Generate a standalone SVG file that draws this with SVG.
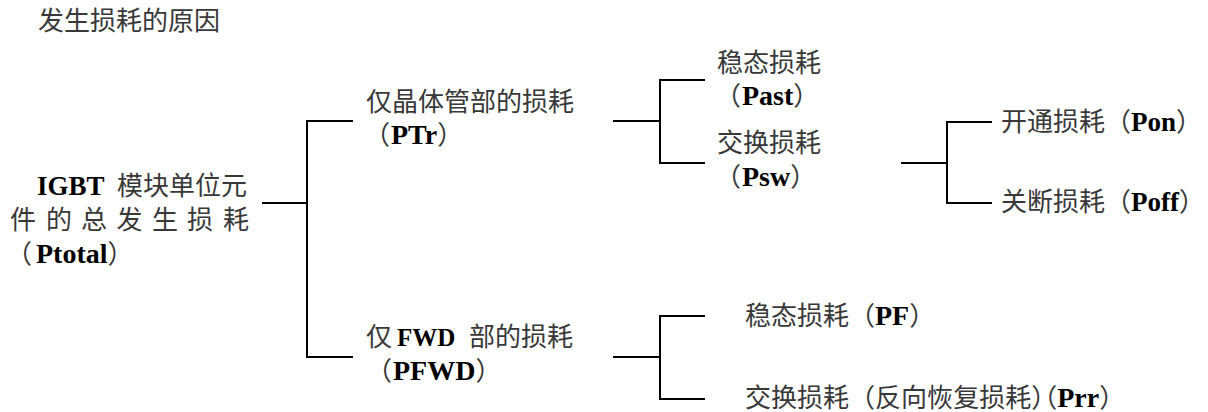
<svg xmlns="http://www.w3.org/2000/svg" width="1208" height="412" viewBox="0 0 1208 412">
<style>
  text { font-family: "Liberation Serif", "Noto Sans CJK SC", serif; font-size: 26px; fill: #383838; }
  .b { font-family: "Liberation Serif", serif; font-weight: bold; font-size: 28px; fill: #000; }
  .s { font-size: 27px; }
  .c { fill: none; stroke: #000; stroke-width: 2; stroke-linejoin: miter; stroke-linecap: butt; }
</style>
<rect width="1208" height="412" fill="#fff"/>
<g id="title"><text x="38" y="30">发生损耗的原因</text></g>
<g id="connectors">
  <path class="c" d="M262,203 H307"/>
  <path class="c" d="M353,121 H307 V357 H353"/>
  <path class="c" d="M613,121 H660"/>
  <path class="c" d="M705,80 H660 V163 H705"/>
  <path class="c" d="M901,163 H947"/>
  <path class="c" d="M992,122 H947 V203 H992"/>
  <path class="c" d="M613,357 H660"/>
  <path class="c" d="M705,316 H660 V399 H705"/>
</g>
<g id="node-ptotal">
  <text y="195"><tspan class="b s" x="37">IGBT</tspan><tspan x="117">模块单位元</tspan></text>
  <text y="229" x="10 46 81 116.5 152 187 223">件的总发生损耗</text>
  <text y="263"><tspan x="6">（</tspan><tspan class="b" x="36">Ptotal</tspan><tspan>）</tspan></text>
</g>
<g id="node-ptr">
  <text x="366" y="111">仅晶体管部的损耗</text>
  <text y="144"><tspan x="364">（</tspan><tspan class="b" x="391">PTr</tspan><tspan>）</tspan></text>
</g>
<g id="node-pfwd">
  <text y="346"><tspan x="366">仅 </tspan><tspan class="b" x="397" style="font-size:25px">FWD</tspan><tspan x="469">部的损耗</tspan></text>
  <text y="380"><tspan x="366">（</tspan><tspan class="b" x="393">PFWD</tspan><tspan>）</tspan></text>
</g>
<g id="node-past">
  <text x="717" y="72">稳态损耗</text>
  <text y="105"><tspan x="715">（</tspan><tspan class="b" x="742">Past</tspan><tspan>）</tspan></text>
</g>
<g id="node-psw">
  <text x="717" y="152">交换损耗</text>
  <text y="186"><tspan x="715">（</tspan><tspan class="b" x="742">Psw</tspan><tspan>）</tspan></text>
</g>
<g id="node-pon">
  <text y="131"><tspan x="1001">开通损耗（</tspan><tspan class="b s">Pon</tspan><tspan>）</tspan></text>
</g>
<g id="node-poff">
  <text y="211"><tspan x="1001">关断损耗（</tspan><tspan class="b s">Poff</tspan><tspan>）</tspan></text>
</g>
<g id="node-pf">
  <text y="325"><tspan x="745">稳态损耗（</tspan><tspan class="b">PF</tspan><tspan>）</tspan></text>
</g>
<g id="node-prr">
  <text y="407" x="745" dx="0 0 0 0 0 0 0 0 0 0 0 0 -13">交换损耗（反向恢复损耗）（<tspan class="b">Prr</tspan><tspan>）</tspan></text>
</g>
</svg>
